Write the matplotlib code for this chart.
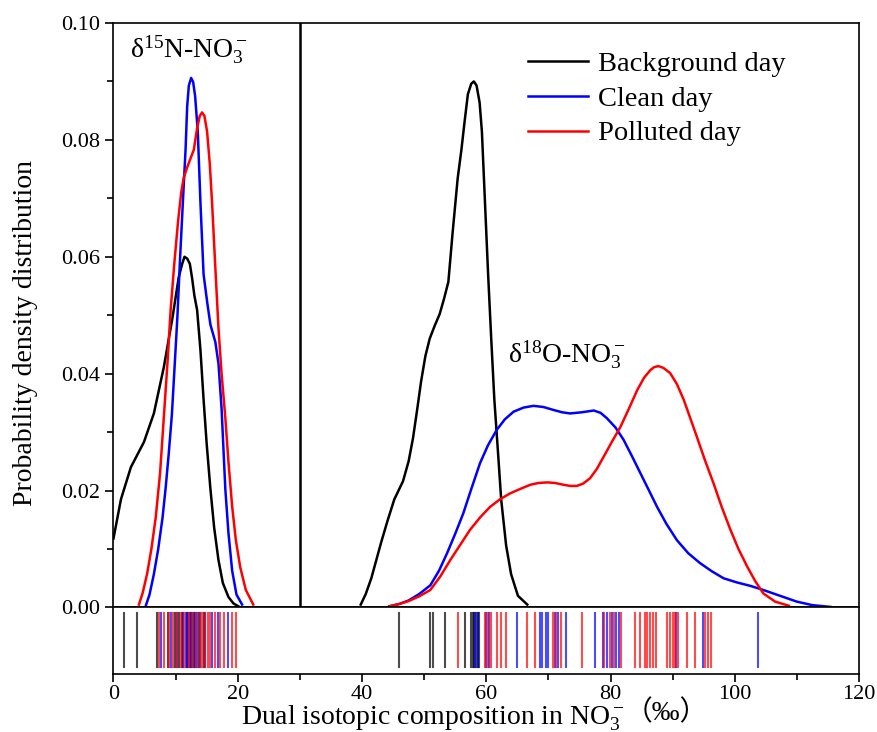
import numpy as np
import matplotlib
matplotlib.use('Agg')
import matplotlib.pyplot as plt
from matplotlib.ticker import MultipleLocator, FormatStrFormatter

plt.rcParams['font.family'] = ['Liberation Serif', 'Noto Sans CJK SC']
plt.rcParams['mathtext.fontset'] = 'custom'
plt.rcParams['mathtext.rm'] = 'Liberation Serif'
plt.rcParams['mathtext.it'] = 'Liberation Serif:italic'
plt.rcParams['mathtext.default'] = 'regular'

# density curves (x in permil, y density)
bg_n_x = [0.0, 1.2, 2.8, 4.9, 6.5, 8.1, 9.5, 10.5, 11.06, 11.43, 11.86, 12.29, 12.66, 13.03, 13.46,
          14.0, 14.5, 15.0, 15.6, 16.2, 16.9, 17.6, 18.5, 19.3, 20.1]
bg_n_y = [0.0118, 0.0185, 0.024, 0.0283, 0.0332, 0.0411, 0.0496, 0.0565, 0.0588, 0.060, 0.0597, 0.0588,
          0.0563, 0.0533, 0.0509, 0.0440, 0.0356, 0.0280, 0.0203, 0.0137, 0.0081, 0.0042, 0.0018, 0.0007, 0.0002]
cl_n_x = [5.2, 5.8, 6.5, 7.2, 7.9, 8.4, 8.9, 9.4, 9.8, 10.3, 10.7, 11.2, 11.6, 11.86, 12.13, 12.5, 12.82,
          13.14, 13.57, 14.0, 14.5, 15.1, 15.6, 16.4, 16.9, 17.4, 18.0, 18.5, 19.1, 19.8, 20.7]
cl_n_y = [0.0003, 0.0022, 0.0057, 0.0100, 0.0154, 0.0205, 0.0264, 0.0330, 0.0405, 0.0500, 0.0594, 0.0700,
          0.0783, 0.0857, 0.0893, 0.0906, 0.0899, 0.0875, 0.0814, 0.0692, 0.0570, 0.0521, 0.0484, 0.0454,
          0.0417, 0.0340, 0.0203, 0.0128, 0.0063, 0.0022, 0.0005]
po_n_x = [4.1, 4.7, 5.4, 6.1, 6.8, 7.5, 8.1, 8.7, 9.2, 9.8, 10.4, 10.9, 11.3, 11.86, 12.5, 12.93, 13.46,
          13.89, 14.26, 14.64, 15.07, 15.5, 15.87, 16.4, 16.9, 17.4, 18.0, 18.5, 19.1, 19.7, 20.4, 21.3, 22.5]
po_n_y = [0.0005, 0.0025, 0.0057, 0.0100, 0.0154, 0.0230, 0.0325, 0.0420, 0.0509, 0.0590, 0.0661, 0.0710,
          0.0735, 0.0753, 0.0771, 0.0783, 0.0820, 0.0841, 0.0847, 0.0841, 0.0814, 0.0759, 0.0692, 0.0580,
          0.0478, 0.0400, 0.0325, 0.0250, 0.0173, 0.0115, 0.0069, 0.0030, 0.0005]

bg_o_x = [39.8, 40.6, 41.5, 42.3, 43.1, 44.1, 45.2, 46.6, 47.5, 48.2, 48.9, 49.5, 50.2, 50.9, 51.7, 52.5,
          53.2, 53.9, 54.6, 55.4, 56.0, 56.5, 57.04, 57.58, 58.0, 58.44, 58.93, 59.3, 59.8, 60.3, 60.8,
          61.3, 61.9, 62.4, 63.2, 64.0, 65.1, 66.6]
bg_o_y = [0.0005, 0.0023, 0.005, 0.0081, 0.0112, 0.0148, 0.0185, 0.0216, 0.0250, 0.0289, 0.0340, 0.0386,
          0.0430, 0.0460, 0.0482, 0.0502, 0.0528, 0.0557, 0.0643, 0.0734, 0.0783, 0.0830, 0.0878, 0.0896,
          0.0900, 0.0893, 0.0864, 0.0814, 0.0692, 0.0570, 0.0460, 0.0356, 0.0264, 0.0185, 0.0106, 0.0057,
          0.0020, 0.0005]
cl_o_x = [44.4, 46.0, 47.5, 49.2, 51.0, 52.4, 53.7, 55.0, 56.3, 57.6, 59.0, 60.3, 61.7, 63.0, 64.4, 66.0,
          67.6, 69.2, 70.8, 72.2, 73.5, 75.4, 77.3, 78.4, 79.4, 80.8, 82.1, 83.4, 84.8, 86.2, 87.5, 89.0,
          90.7, 92.5, 94.4, 96.3, 98.2, 100.3, 102.5, 104.3, 106.2, 108.1, 110.0, 112.5, 115.4]
cl_o_y = [0.0002, 0.0006, 0.0012, 0.0023, 0.0038, 0.0063, 0.0093, 0.0126, 0.0161, 0.0203, 0.0247, 0.0278,
          0.0304, 0.0322, 0.0335, 0.0342, 0.0345, 0.0343, 0.0338, 0.0334, 0.0332, 0.0334, 0.0337, 0.0333,
          0.0324, 0.0308, 0.0287, 0.0260, 0.0230, 0.0200, 0.0172, 0.0143, 0.0115, 0.0093, 0.0076, 0.0062,
          0.0050, 0.0043, 0.0037, 0.0031, 0.0024, 0.0017, 0.0010, 0.0004, 0.0001]
po_o_x = [44.4, 46.0, 47.5, 49.2, 51.0, 52.6, 54.2, 55.8, 57.4, 59.0, 60.6, 62.2, 63.8, 65.5, 67.1, 68.4,
          69.8, 71.1, 72.4, 73.5, 74.6, 75.6, 76.7, 77.8, 78.9, 80.2, 81.6, 83.0, 84.3, 85.4, 86.4, 87.0,
          87.7, 88.5, 89.6, 90.7, 91.8, 92.8, 93.9, 95.2, 96.6, 97.9, 99.3, 100.6, 102.0, 103.3, 104.6,
          106.5, 108.7]
po_o_y = [0.0002, 0.0006, 0.0011, 0.0019, 0.003, 0.0053, 0.0081, 0.0107, 0.0133, 0.0154, 0.0172, 0.0185,
          0.0195, 0.0203, 0.021, 0.0213, 0.0214, 0.0213, 0.021, 0.0208, 0.0208, 0.0212, 0.0221, 0.0237,
          0.0258, 0.0283, 0.0309, 0.0341, 0.0372, 0.0393, 0.0406, 0.0411, 0.0413, 0.0410, 0.0401, 0.0382,
          0.0355, 0.0325, 0.0292, 0.0252, 0.0212, 0.0172, 0.0133, 0.0100, 0.007, 0.0045, 0.0024, 0.0010,
          0.0003]

# rug values (individual samples)
bg_rug = [1.7, 3.8, 7.0, 8.7, 9.9, 10.6, 11.2, 11.8, 12.4, 13.0, 13.8, 14.6,
          45.9, 50.9, 51.4, 53.4, 56.5, 57.6, 57.9, 58.1, 58.3, 58.6, 58.8]
cl_rug = [7.6, 9.3, 10.2, 11.0, 11.6, 12.0, 12.3, 12.7, 13.1, 13.5, 14.0, 14.8, 15.9, 16.8, 18.4,
          58.2, 58.7, 59.9, 60.5, 64.9, 68.6, 69.0, 69.6, 70.0, 71.0, 71.5, 72.8, 77.5, 78.8, 79.5,
          80.2, 80.9, 81.4, 90.6, 94.9, 103.7]
po_rug = [7.3, 8.2, 9.0, 9.6, 10.3, 10.9, 11.4, 12.1, 12.6, 13.3, 13.9, 14.3, 14.7, 15.2, 15.6,
          16.3, 17.1, 17.8, 19.0, 19.8,
          55.4, 59.8, 60.3, 60.8, 61.7, 62.4, 63.2, 66.5, 67.9, 70.8, 71.3, 72.1, 75.4, 78.9, 79.9,
          80.6, 81.7, 84.0, 84.7, 85.5, 85.9, 86.3, 86.8, 87.3, 89.1, 89.5, 90.0, 90.4, 90.9, 92.3,
          93.6, 95.2, 95.7, 96.2]

labels = ['Background day', 'Clean day', 'Polluted day']
colors = ['black', 'blue', 'red']

fig = plt.figure(figsize=(8.77, 7.32), dpi=100)
ax = fig.add_axes([0.1294, 0.1701, 0.8501, 0.7985])
axr = fig.add_axes([0.1294, 0.0792, 0.8501, 0.0909], sharex=ax)

curves = [((bg_n_x, bg_n_y), (bg_o_x, bg_o_y)),
          ((cl_n_x, cl_n_y), (cl_o_x, cl_o_y)),
          ((po_n_x, po_n_y), (po_o_x, po_o_y))]
for (n, o), c, lab in zip(curves, colors, labels):
    ax.plot(n[0], n[1], color=c, lw=1.8, label=lab, solid_joinstyle='round')
    ax.plot(o[0], o[1], color=c, lw=1.8, solid_joinstyle='round')

ax.axvline(30, color='black', lw=1.8)

ax.set_xlim(0, 120)
ax.set_ylim(0, 0.1)
ax.yaxis.set_major_locator(MultipleLocator(0.02))
ax.yaxis.set_minor_locator(MultipleLocator(0.01))
ax.yaxis.set_major_formatter(FormatStrFormatter('%.2f'))
ax.tick_params(axis='y', which='both', direction='out', labelsize=16, width=1.2)
ax.tick_params(axis='y', which='major', length=6)
ax.tick_params(axis='y', which='minor', length=4)
ax.tick_params(axis='x', which='both', bottom=False, labelbottom=False)
ax.set_ylabel('Probability density distribution', fontsize=20)
ax.yaxis.set_label_coords(-0.101, 0.47)
for s in ax.spines.values():
    s.set_linewidth(1.2)

ax.text(2.7, 0.0955, 'δ$^{15}$N-NO$_3^-$', fontsize=20, va='center', ha='left')
ax.text(63.5, 0.0433, 'δ$^{18}$O-NO$_3^-$', fontsize=20, va='center', ha='left')

ax.legend(loc='upper left', bbox_to_anchor=(0.556, 0.952), frameon=False, fontsize=20.5,
          handlelength=2.1, handletextpad=0.35, labelspacing=0.31, borderpad=0, borderaxespad=0)

for vals, c in zip([bg_rug, cl_rug, po_rug], colors):
    for v in vals:
        axr.axvline(v, ymin=0.1, ymax=0.92, color=c, lw=1.5, alpha=0.7)

axr.set_ylim(0, 1)
axr.set_yticks([])
axr.xaxis.set_major_locator(MultipleLocator(20))
axr.xaxis.set_minor_locator(MultipleLocator(10))
axr.tick_params(axis='x', which='both', direction='out', labelsize=16, width=1.2, pad=2)
axr.tick_params(axis='x', which='major', length=6)
axr.tick_params(axis='x', which='minor', length=4)
for s in axr.spines.values():
    s.set_linewidth(1.2)
xlab = axr.set_xlabel('Dual isotopic composition in NO$_3^-$', fontsize=20)
axr.xaxis.set_label_coords(0.4286, -0.44)
xlab.set_va('top')
axr.annotate('（‰）', xy=(1.0, 0.22), xycoords=xlab, fontsize=20, ha='left', va='bottom',
             family=['Liberation Serif', 'Noto Sans CJK SC'])

fig.savefig('out.png', dpi=100)
